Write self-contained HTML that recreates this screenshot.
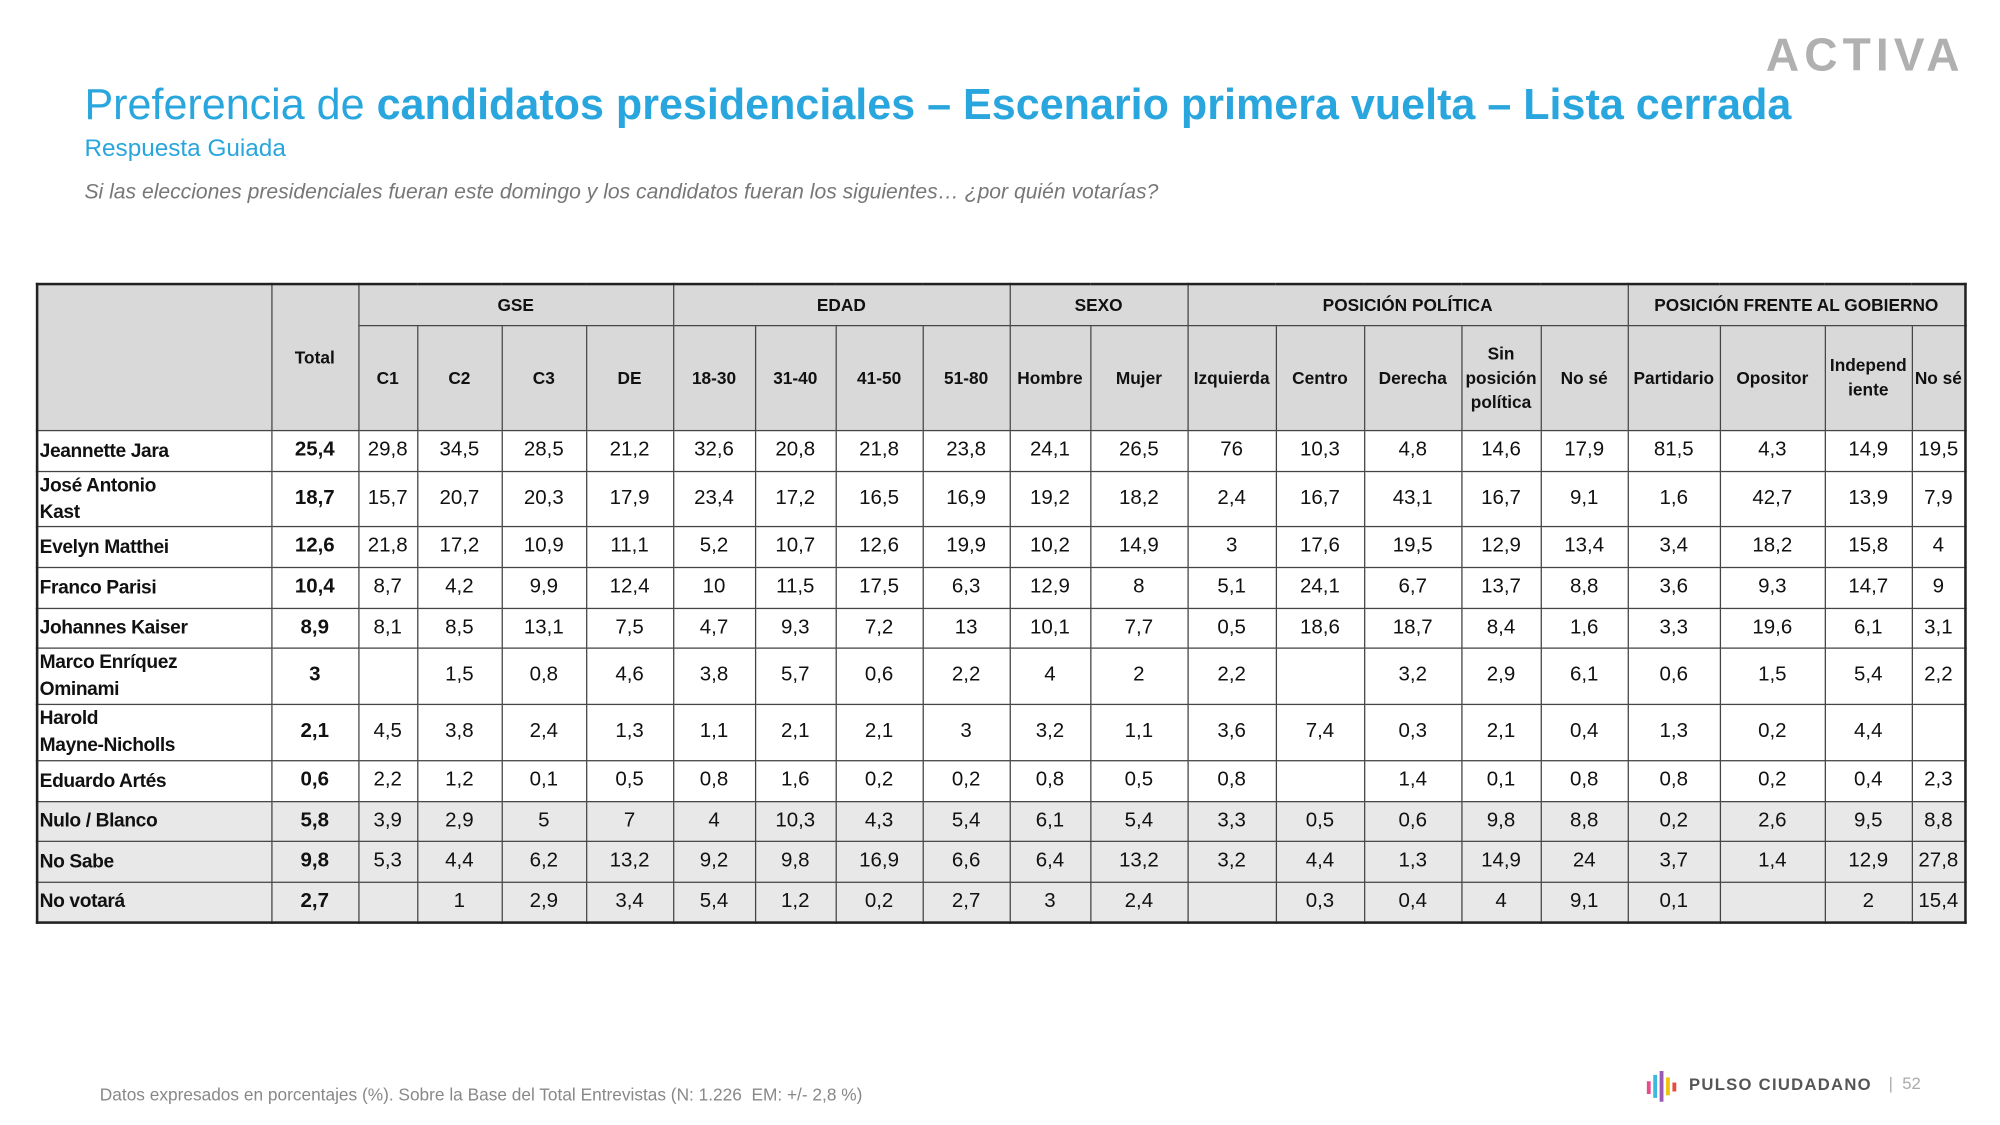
<!DOCTYPE html>
<html><head><meta charset="utf-8"><style>
html,body{margin:0;padding:0;background:#fff;}
body{width:2000px;height:1125px;overflow:hidden;position:relative;}
#w{position:absolute;left:0;top:0;width:1563px;height:879px;transform:scale(1.27959);transform-origin:0 0;font-family:"Liberation Sans",sans-serif;}
.abs{position:absolute;white-space:nowrap;}
table{position:absolute;left:28px;top:221px;border-collapse:collapse;table-layout:fixed;width:1506px;border:2px solid #222;}
td{border:1px solid #444;text-align:center;font-size:16px;color:#111;padding:0;overflow:hidden;}
tr.h td{background:#d9d9d9;font-weight:bold;font-size:13.5px;line-height:19px;}
td.n{text-align:left;font-weight:bold;font-size:15px;line-height:21px;padding-left:1px;letter-spacing:-0.3px;white-space:nowrap;}
td.t{font-weight:bold;}
tr.g td{background:#e8e8e8;}
</style></head><body><div id="w">
<div class="abs" style="left:1380px;top:22px;font-size:36px;font-weight:bold;color:#b0b0b0;letter-spacing:4px;">ACTIVA</div>
<div class="abs" style="left:66px;top:63px;font-size:34px;color:#29a6dd;transform:scaleX(0.99);transform-origin:0 0;">Preferencia de <b>candidatos presidenciales – Escenario primera vuelta – Lista cerrada</b></div>
<div class="abs" style="left:66px;top:106px;font-size:19px;color:#29a6dd;">Respuesta Guiada</div>
<div class="abs" style="left:66px;top:141px;font-size:16.5px;color:#777;font-style:italic;">Si las elecciones presidenciales fueran este domingo y los candidatos fueran los siguientes… ¿por quién votarías?</div>
<table>
<colgroup><col style="width:183px"><col style="width:68px"><col style="width:46px"><col style="width:66px"><col style="width:66px"><col style="width:68px"><col style="width:64px"><col style="width:63px"><col style="width:68px"><col style="width:68px"><col style="width:63px"><col style="width:76px"><col style="width:69px"><col style="width:69px"><col style="width:76px"><col style="width:62px"><col style="width:68px"><col style="width:72px"><col style="width:82px"><col style="width:68px"><col style="width:42px"></colgroup>
<tr class="h" style="height:32px"><td rowspan="2"></td><td rowspan="2">Total</td><td colspan="4">GSE</td><td colspan="4">EDAD</td><td colspan="2">SEXO</td><td colspan="5">POSICIÓN POLÍTICA</td><td colspan="4">POSICIÓN FRENTE AL GOBIERNO</td></tr>
<tr class="h" style="height:82px"><td>C1</td><td>C2</td><td>C3</td><td>DE</td><td>18-30</td><td>31-40</td><td>41-50</td><td>51-80</td><td>Hombre</td><td>Mujer</td><td>Izquierda</td><td>Centro</td><td>Derecha</td><td>Sin posición política</td><td>No sé</td><td>Partidario</td><td>Opositor</td><td>Independ iente</td><td>No sé</td></tr>
<tr style="height:32px"><td class="n">Jeannette Jara</td><td class="t">25,4</td><td>29,8</td><td>34,5</td><td>28,5</td><td>21,2</td><td>32,6</td><td>20,8</td><td>21,8</td><td>23,8</td><td>24,1</td><td>26,5</td><td>76</td><td>10,3</td><td>4,8</td><td>14,6</td><td>17,9</td><td>81,5</td><td>4,3</td><td>14,9</td><td>19,5</td></tr>
<tr style="height:43px"><td class="n">José Antonio<br>Kast</td><td class="t">18,7</td><td>15,7</td><td>20,7</td><td>20,3</td><td>17,9</td><td>23,4</td><td>17,2</td><td>16,5</td><td>16,9</td><td>19,2</td><td>18,2</td><td>2,4</td><td>16,7</td><td>43,1</td><td>16,7</td><td>9,1</td><td>1,6</td><td>42,7</td><td>13,9</td><td>7,9</td></tr>
<tr style="height:32px"><td class="n">Evelyn Matthei</td><td class="t">12,6</td><td>21,8</td><td>17,2</td><td>10,9</td><td>11,1</td><td>5,2</td><td>10,7</td><td>12,6</td><td>19,9</td><td>10,2</td><td>14,9</td><td>3</td><td>17,6</td><td>19,5</td><td>12,9</td><td>13,4</td><td>3,4</td><td>18,2</td><td>15,8</td><td>4</td></tr>
<tr style="height:32px"><td class="n">Franco Parisi</td><td class="t">10,4</td><td>8,7</td><td>4,2</td><td>9,9</td><td>12,4</td><td>10</td><td>11,5</td><td>17,5</td><td>6,3</td><td>12,9</td><td>8</td><td>5,1</td><td>24,1</td><td>6,7</td><td>13,7</td><td>8,8</td><td>3,6</td><td>9,3</td><td>14,7</td><td>9</td></tr>
<tr style="height:31px"><td class="n">Johannes Kaiser</td><td class="t">8,9</td><td>8,1</td><td>8,5</td><td>13,1</td><td>7,5</td><td>4,7</td><td>9,3</td><td>7,2</td><td>13</td><td>10,1</td><td>7,7</td><td>0,5</td><td>18,6</td><td>18,7</td><td>8,4</td><td>1,6</td><td>3,3</td><td>19,6</td><td>6,1</td><td>3,1</td></tr>
<tr style="height:44px"><td class="n">Marco Enríquez<br>Ominami</td><td class="t">3</td><td></td><td>1,5</td><td>0,8</td><td>4,6</td><td>3,8</td><td>5,7</td><td>0,6</td><td>2,2</td><td>4</td><td>2</td><td>2,2</td><td></td><td>3,2</td><td>2,9</td><td>6,1</td><td>0,6</td><td>1,5</td><td>5,4</td><td>2,2</td></tr>
<tr style="height:44px"><td class="n">Harold<br>Mayne-Nicholls</td><td class="t">2,1</td><td>4,5</td><td>3,8</td><td>2,4</td><td>1,3</td><td>1,1</td><td>2,1</td><td>2,1</td><td>3</td><td>3,2</td><td>1,1</td><td>3,6</td><td>7,4</td><td>0,3</td><td>2,1</td><td>0,4</td><td>1,3</td><td>0,2</td><td>4,4</td><td></td></tr>
<tr style="height:32px"><td class="n">Eduardo Artés</td><td class="t">0,6</td><td>2,2</td><td>1,2</td><td>0,1</td><td>0,5</td><td>0,8</td><td>1,6</td><td>0,2</td><td>0,2</td><td>0,8</td><td>0,5</td><td>0,8</td><td></td><td>1,4</td><td>0,1</td><td>0,8</td><td>0,8</td><td>0,2</td><td>0,4</td><td>2,3</td></tr>
<tr class="g" style="height:31px"><td class="n">Nulo / Blanco</td><td class="t">5,8</td><td>3,9</td><td>2,9</td><td>5</td><td>7</td><td>4</td><td>10,3</td><td>4,3</td><td>5,4</td><td>6,1</td><td>5,4</td><td>3,3</td><td>0,5</td><td>0,6</td><td>9,8</td><td>8,8</td><td>0,2</td><td>2,6</td><td>9,5</td><td>8,8</td></tr>
<tr class="g" style="height:32px"><td class="n">No Sabe</td><td class="t">9,8</td><td>5,3</td><td>4,4</td><td>6,2</td><td>13,2</td><td>9,2</td><td>9,8</td><td>16,9</td><td>6,6</td><td>6,4</td><td>13,2</td><td>3,2</td><td>4,4</td><td>1,3</td><td>14,9</td><td>24</td><td>3,7</td><td>1,4</td><td>12,9</td><td>27,8</td></tr>
<tr class="g" style="height:32px"><td class="n">No votará</td><td class="t">2,7</td><td></td><td>1</td><td>2,9</td><td>3,4</td><td>5,4</td><td>1,2</td><td>0,2</td><td>2,7</td><td>3</td><td>2,4</td><td></td><td>0,3</td><td>0,4</td><td>4</td><td>9,1</td><td>0,1</td><td></td><td>2</td><td>15,4</td></tr>
</table>
<div class="abs" style="left:78px;top:848px;font-size:13.5px;color:#888;">Datos expresados en porcentajes (%). Sobre la Base del Total Entrevistas (N: 1.226&nbsp; EM: +/- 2,8 %)</div>
<div class="abs" style="left:1287px;top:837px;width:26px;height:24px;">
<div style="position:absolute;left:0;top:8px;width:3px;height:10px;background:#e74c8b"></div>
<div style="position:absolute;left:5px;top:3px;width:3px;height:18px;background:#3fb8e0"></div>
<div style="position:absolute;left:10px;top:0;width:3px;height:24px;background:#9b59b6"></div>
<div style="position:absolute;left:15px;top:5px;width:3px;height:14px;background:#f1c40f"></div>
<div style="position:absolute;left:20px;top:9px;width:3px;height:7px;background:#e74c3c"></div>
</div>
<div class="abs" style="left:1320px;top:840px;font-size:13px;font-weight:bold;color:#555;letter-spacing:1px;">PULSO CIUDADANO</div>
<div class="abs" style="left:1476px;top:839px;font-size:13px;color:#aaa;">|&nbsp; 52</div>
</div></body></html>
